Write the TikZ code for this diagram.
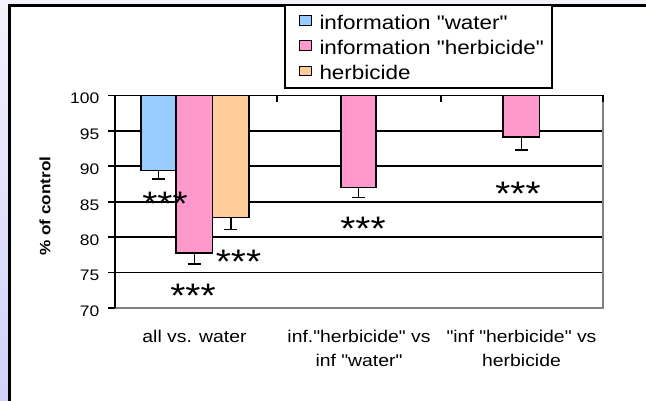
\documentclass[tikz,border=0pt]{standalone}
\usepackage{fontspec}
\setmainfont{Liberation Sans}[FakeStretch=1.14, Ligatures=TeXOff]

\definecolor{infwater}{RGB}{153,204,255}
\definecolor{infherb}{RGB}{255,153,204}
\definecolor{herb}{RGB}{255,204,153}
\definecolor{lavtop}{RGB}{242,242,252}
\definecolor{lavbot}{RGB}{208,208,250}

\tikzset{
  bar/.style={draw=black, line width=1.6pt},
  errbar/.style={line width=1.5pt},
  gridline/.style={line width=1.7pt},
  ticklabel/.style={font=\fontsize{15.3}{18}\selectfont, anchor=east, inner sep=0pt, yshift=-3pt},
  catlabel/.style={font=\fontsize{17}{23.3}\selectfont, align=center, inner sep=0pt},
  stars/.style={font=\fontsize{34}{34}\selectfont, anchor=base, inner sep=0pt},
  legkey/.style={draw=black, line width=1.4pt, minimum width=12pt, minimum height=9.5pt, inner sep=0pt},
  legtext/.style={font=\fontsize{19.7}{22}\selectfont, anchor=base west, inner sep=0pt}
}

\begin{document}
\begin{tikzpicture}[x=1pt, y=-1pt]
  \useasboundingbox (0,0) rectangle (646,401);
  % frame of the slide
  \shade[top color=lavtop, bottom color=lavbot] (0,0) rectangle (10,401);
  \fill[lavtop] (0,0) rectangle (646,5);
  \fill[white] (9,5) rectangle (646,401);
  \draw[line width=2.6pt] (9.3,401) -- (9.3,5.3) -- (646,5.3);

  % plot area, y in percent of control
  \begin{scope}[y=7.0833pt, yshift=-803.83pt]
    \foreach \v in {75,80,...,95}
      \draw[gridline] (115,\v) -- (603,\v);
    \draw[gray, line width=2.2pt] (115,70) -- (603,70) -- (603,100);
    \draw[gridline] (115,70) -- (115,100) -- (603,100);
    \foreach \v in {70,75,...,100} {
      \draw[gridline] (108,\v) -- (115,\v);
      \node[ticklabel] (t\v) at (99.5,\v) {\v};
    }
    \foreach \x in {277,441,603}
      \draw[gridline] (\x,100) -- (\x,99.15);

    % bars with error bars
    \foreach \l/\r/\m/\e/\c in {141/176/89.4/88.2/infwater,
                                176/212.5/77.8/76.2/infherb,
                                212.5/249/82.8/81.1/herb,
                                341/376/87.0/85.6/infherb,
                                503/539.5/94.1/92.3/infherb} {
      \draw[bar, fill=\c] (\l,100) rectangle (\r,\m);
      \draw[errbar] ({(\l+\r)/2},\m) -- ({(\l+\r)/2},\e)
                    ({(\l+\r)/2-6.5},\e) -- ({(\l+\r)/2+6.5},\e);
    }
  \end{scope}

  % significance
  \node[stars] (s1) at (165,216) {***};
  \node[stars] (s2) at (238.5,273) {***};
  \node[stars] (s3) at (193,307) {***};
  \node[stars] (s4) at (363,240.5) {***};
  \node[stars] (s5) at (518,205.5) {***};

  % axis titles
  \node[rotate=90, font=\bfseries\fontsize{15}{18}\selectfont] (ytitle) at (45,206) {\% of control};
  \node[catlabel] (c1) at (194.5,336.7) {all vs. water};
  \node[catlabel] (c2) at (359,348.5) {inf."herbicide" vs\\inf "water"};
  \node[catlabel] (c3) at (521.5,348.5) {"inf "herbicide" vs\\herbicide};

  % legend
  \draw[line width=2pt, fill=white] (284.7,5.3) rectangle (551.7,87.7);
  \node[legkey, fill=infwater] (k1) at (305.2,20.5) {};
  \node[legkey, fill=infherb] (k2) at (305.2,45.5) {};
  \node[legkey, fill=herb] (k3) at (305.2,71) {};
  \node[legtext] (l1) at (319.3,29.3) {information "water"};
  \node[legtext] (l2) at (319.3,54.6) {information "herbicide"};
  \node[legtext] (l3) at (319.3,80) {herbicide};
\end{tikzpicture}
\end{document}
